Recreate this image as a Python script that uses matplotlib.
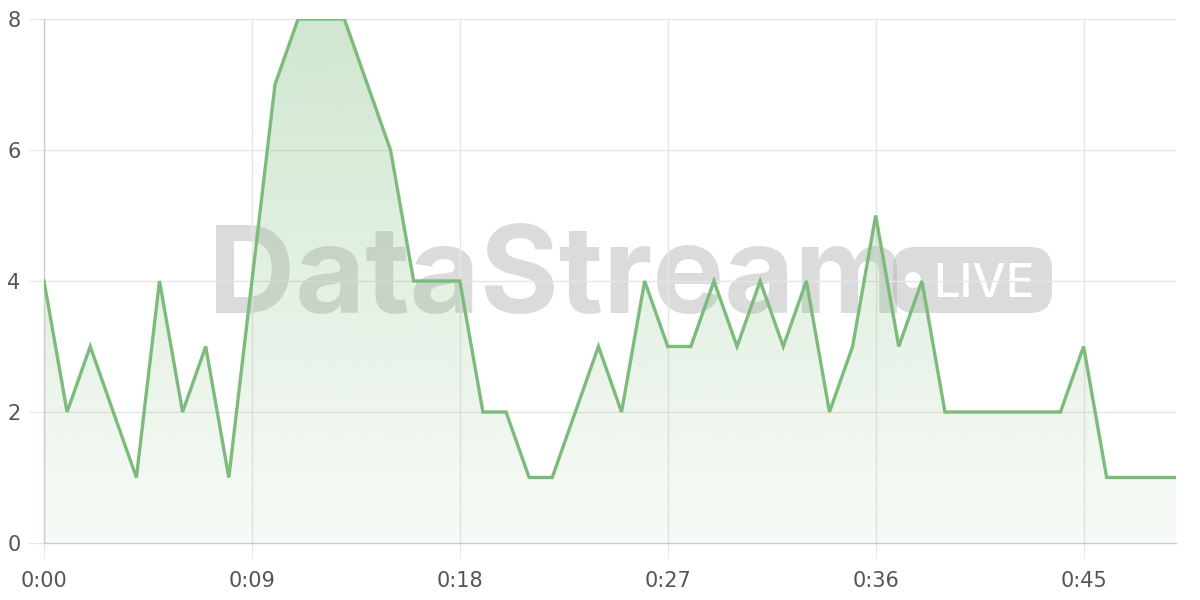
import numpy as np
import matplotlib.pyplot as plt
from matplotlib.patches import FancyBboxPatch, Circle, PathPatch
from matplotlib.path import Path

# ── Data ─────────────────────────────────────────────────────────────────────
seconds = list(range(50))
values = [4, 2, 3, 2, 1, 4, 2, 3, 1, 4,
          7, 8, 8, 8, 7, 6, 4, 4, 4, 2,
          2, 1, 1, 2, 3, 2, 4, 3, 3, 4,
          3, 4, 3, 4, 2, 3, 5, 3, 4, 2,
          2, 2, 2, 2, 2, 3, 1, 1, 1, 1]
xtick_pos = [0, 9, 18, 27, 36, 45]
xtick_labels = ["0:00", "0:09", "0:18", "0:27", "0:36", "0:45"]
ytick_pos = [0, 2, 4, 6, 8]

LINE = "#7dbb7d"
GRID = "#e6e6e6"
TEXT = "#555555"
MARK = "#b9b9b9"

# ── Figure ───────────────────────────────────────────────────────────────────
fig = plt.figure(figsize=(12, 6), dpi=100)

# watermark layer, in pixel units, behind the chart
wm = fig.add_axes([0, 0, 1, 1], zorder=0)
wm.set_xlim(0, 1200)
wm.set_ylim(600, 0)
wm.axis("off")
wm.text(208, 313, "DataStream", fontsize=87, fontweight="bold",
        family=["Inter", "DejaVu Sans"], color=MARK, alpha=0.5,
        ha="left", va="baseline")
wm.add_patch(FancyBboxPatch((893, 247), 159, 66,
                            boxstyle="round,pad=0,rounding_size=22",
                            facecolor=MARK, alpha=0.5, edgecolor="none"))
wm.add_patch(Circle((913, 280), 8, facecolor="white", edgecolor="none"))
wm.text(933, 297, "LIVE", fontsize=34, fontweight="medium",
        family=["Inter", "DejaVu Sans"], color="white",
        ha="left", va="baseline")

ax = fig.add_axes([44 / 1200, 57 / 600, 1132 / 1200, 524 / 600], zorder=1)
ax.set_facecolor("none")
ax.set_xlim(0, 49)
ax.set_ylim(0, 8)

# gradient fill under the line
x = np.array(seconds, dtype=float)
y = np.array(values, dtype=float)
verts = [(x[0], 0)] + list(zip(x, y)) + [(x[-1], 0), (x[0], 0)]
poly = PathPatch(Path(verts), facecolor="none", edgecolor="none")
ax.add_patch(poly)
grad = np.linspace(0, 1, 256).reshape(-1, 1)
rgba = np.zeros((256, 1, 4))
rgba[..., 0] = 0x7d / 255
rgba[..., 1] = 0xbb / 255
rgba[..., 2] = 0x7d / 255
rgba[..., 3] = 0.06 + 0.30 * grad
im = ax.imshow(rgba, extent=[0, 49, 0, 8], origin="lower", aspect="auto",
               zorder=1, interpolation="bilinear")
im.set_clip_path(poly)

ax.plot(x, y, color=LINE, linewidth=2.4, zorder=4, solid_joinstyle="miter")

# ── Grid & spines ────────────────────────────────────────────────────────────
ax.set_xticks(xtick_pos)
ax.set_xticklabels(xtick_labels)
ax.set_yticks(ytick_pos)
ax.grid(True, color=GRID, linewidth=1)
ax.set_axisbelow(True)
for s in ["top", "right"]:
    ax.spines[s].set_visible(False)
for s in ["left", "bottom"]:
    ax.spines[s].set_color("#cccccc")
    ax.spines[s].set_linewidth(1)
ax.tick_params(length=11, color=GRID, labelsize=15, labelcolor=TEXT)
ax.tick_params(axis="x", pad=9)
ax.tick_params(axis="y", pad=6)

fig.savefig("out.png", dpi=100, facecolor="white")
